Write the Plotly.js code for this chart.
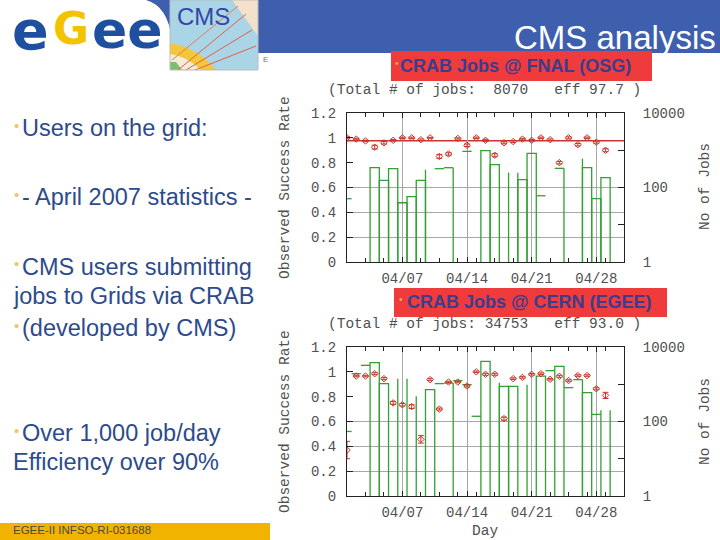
<!DOCTYPE html>
<html><head><meta charset="utf-8">
<script src="https://cdn.plot.ly/plotly-3.0.1.min.js"></script>
<style>html,body{margin:0;padding:0;background:#fff;}#chart{width:720px;height:540px;}</style>
</head><body><div id="chart"></div>
<script>
// ---------------- data ----------------
const days = ['2007-04-01','2007-04-02','2007-04-03','2007-04-04','2007-04-05','2007-04-06','2007-04-07','2007-04-08','2007-04-09','2007-04-10',
  '2007-04-11','2007-04-12','2007-04-13','2007-04-14','2007-04-15','2007-04-16','2007-04-17','2007-04-18','2007-04-19','2007-04-20',
  '2007-04-21','2007-04-22','2007-04-23','2007-04-24','2007-04-25','2007-04-26','2007-04-27','2007-04-28','2007-04-29'];

// FNAL (OSG) success rate per day
const fnalRate = [1.0,0.99,0.975,0.925,0.96,0.98,1.0,1.0,0.985,1.0,
  0.85,0.87,0.995,0.94,1.0,0.98,0.86,0.96,0.97,0.99,
  0.98,1.0,0.985,0.80,1.0,0.945,1.0,0.965,0.90];
const fnalErr = [0.008,0.006,0.006,0.015,0.01,0.006,0.005,0.006,0.006,0.004,
  0.015,0.01,0.005,0.01,0.006,0.008,0.012,0.008,0.008,0.006,
  0.006,0.006,0.006,0.01,0.008,0.01,0.006,0.008,0.012];
const fnalEff = 0.977;
// FNAL number of jobs (histogram pieces)
const fnalBarDays = ['2007-04-04','2007-04-05','2007-04-06','2007-04-07','2007-04-08','2007-04-09','2007-04-16','2007-04-17','2007-04-20','2007-04-21','2007-04-27','2007-04-28','2007-04-29'];
const fnalBarJobs = [340,155,320,39,57,155,975,410,162,826,340,50,184];
const fnalTopDays = ['2007-04-01','2007-04-11','2007-04-12','2007-04-14','2007-04-22','2007-04-24'];
const fnalTopJobs = [50,320,340,935,60,327];
const fnalStemEdges = ['2007-04-09 12:00','2007-04-12 12:00','2007-04-18 12:00','2007-04-19 12:00','2007-04-24 12:00','2007-04-26 12:00'];
const fnalStemJobs = [300,340,250,250,327,595];

// CERN (EGEE) success rate per day
const cernRate = [0.37,0.966,0.966,0.985,0.945,0.75,0.735,0.72,0.456,0.937,
  0.70,0.918,0.918,0.886,1.0,0.98,0.98,0.623,0.945,0.955,
  0.98,0.985,0.94,0.964,0.93,0.97,0.97,0.864,0.81];
const cernErr = [0.07,0.006,0.006,0.008,0.008,0.012,0.01,0.015,0.03,0.008,
  0.008,0.006,0.006,0.008,0.006,0.008,0.008,0.012,0.006,0.006,
  0.006,0.006,0.006,0.008,0.006,0.006,0.006,0.008,0.025];
const cernBarDays = ['2007-04-04','2007-04-05','2007-04-10','2007-04-16','2007-04-18','2007-04-19','2007-04-22','2007-04-24','2007-04-27'];
const cernBarJobs = [3800,1040,716,4120,880,880,1660,3020,595];
const cernTopDays = ['2007-04-01','2007-04-02','2007-04-03','2007-04-11','2007-04-12','2007-04-13','2007-04-14','2007-04-15','2007-04-23','2007-04-25','2007-04-26','2007-04-28'];
const cernTopJobs = [54,1920,3220,1040,1080,1250,975,138,2320,810,1330,155];
const cernStemEdges = ['2007-04-06 12:00','2007-04-07 12:00','2007-04-08 12:00','2007-04-12 12:00','2007-04-17 12:00','2007-04-20 12:00','2007-04-26 12:00','2007-04-28 12:00','2007-04-29 12:00'];
const cernStemJobs = [1410,1410,474,1080,1100,975,1330,200,200];

// axis ticks / labels
const weekTicks = ['2007-04-07','2007-04-14','2007-04-21','2007-04-28'];
const weekLabels = ['04/07','04/14','04/21','04/28'];
const rateTicks = [0,0.2,0.4,0.6,0.8,1.0,1.2];
const rateLabels = ['0','0.2','0.4','0.6','0.8','1','1.2'];
const gridRate = [0.2,0.4,0.6];
const jobTicks = [1,10,100,1000,10000];
const jobLabels = ['1','','100','','10000'];

const fnalTitle = '(Total # of jobs:\u00a0\u00a08070\u00a0\u00a0\u00a0eff 97.7 )';
const cernTitle = '(Total # of jobs: 34753\u00a0\u00a0\u00a0eff 93.0 )';

// ---------------- helpers ----------------
const W = 720, H = 540;
const X = px => px / W, Y = py => 1 - py / H;
const DAY = 86400000, HALF = DAY / 2;
const ms = s => Date.parse(s.length > 10 ? s.replace(' ', 'T') + ':00Z' : s + 'T00:00:00Z');
function P(str){ // pixel path -> paper path
  const t = str.trim().split(/\s+/); let out = [], k = 0;
  for (const tok of t){
    if (/^[A-Za-z]$/.test(tok)){ out.push(tok); k = 0; }
    else { const v = parseFloat(tok); out.push((k % 2 === 0 ? X(v) : Y(v)).toFixed(5)); k++; }
  }
  return out.join(' ');
}
const GREEN = '#32a032', RED = '#c8352b', GRID = '#a8a8a8', AXC = '#222', TXT = '#505050';
const MONO = 'Liberation Mono, DejaVu Sans Mono, monospace';
const SANS = 'Liberation Sans, Arial, sans-serif';
const BLUE = '#3d5fae', TEXTBLUE = '#2d4b8c';

function histTraces(xa, ya, barDays, barJobs, topDays, topJobs, stemEdges, stemJobs){
  const tx = [], ty = [];
  topDays.forEach((d, i) => { const t = ms(d); tx.push(t - HALF, t + HALF, null); ty.push(topJobs[i], topJobs[i], null); });
  const sx = [], sy = [];
  stemEdges.forEach((e, i) => { const t = ms(e); sx.push(t, t, null); sy.push(1, stemJobs[i], null); });
  return [
    {type:'bar', x:barDays, y:barJobs, width:DAY, xaxis:xa, yaxis:ya,
     marker:{color:'rgba(0,0,0,0)', line:{color:GREEN, width:1.3}}, hoverinfo:'skip'},
    {type:'scatter', mode:'lines', x:tx, y:ty, xaxis:xa, yaxis:ya, line:{color:GREEN, width:1.3}, hoverinfo:'skip'},
    {type:'scatter', mode:'lines', x:sx, y:sy, xaxis:xa, yaxis:ya, line:{color:GREEN, width:1.3}, hoverinfo:'skip'}
  ];
}
function rateTrace(xa, ya, rate, err){
  return {type:'scatter', mode:'markers', x:days, y:rate, xaxis:xa, yaxis:ya,
    marker:{symbol:'diamond-open', size:5, color:RED, line:{width:1, color:RED}},
    error_y:{type:'data', array:err, visible:true, color:RED, thickness:1, width:3}, hoverinfo:'skip'};
}

const data = [
  ...histTraces('x','y', fnalBarDays, fnalBarJobs, fnalTopDays, fnalTopJobs, fnalStemEdges, fnalStemJobs),
  rateTrace('x','y2', fnalRate, fnalErr),
  {type:'scatter', x:[], y:[], xaxis:'x', yaxis:'y3', hoverinfo:'skip'},
  ...histTraces('x2','y4', cernBarDays, cernBarJobs, cernTopDays, cernTopJobs, cernStemEdges, cernStemJobs),
  rateTrace('x2','y5', cernRate, cernErr),
  {type:'scatter', x:[], y:[], xaxis:'x2', yaxis:'y6', hoverinfo:'skip'}
];

const tickfont = {family:MONO, size:14, color:TXT};
function xAxis(anchor){
  return {domain:[X(347), X(624)], anchor, type:'date', range:['2007-04-01','2007-05-01'],
    tickmode:'array', tickvals:weekTicks, ticktext:weekLabels, showgrid:true, gridcolor:GRID, gridwidth:1,
    ticks:'inside', ticklen:5, tickcolor:AXC, showline:true, linecolor:AXC, linewidth:1, mirror:'ticks',
    zeroline:false, tickfont, ticklabelstandoff:3,
    minor:{tick0:'2007-04-01', dtick:2*DAY, ticks:'inside', ticklen:4, tickcolor:AXC, showgrid:false}};
}
function logAxis(anchor, top, bottom){
  return {domain:[Y(bottom), Y(top)], anchor, type:'log', side:'right', range:[0,4],
    tickmode:'array', tickvals:jobTicks, ticktext:jobLabels, ticks:'inside', ticklen:6, tickcolor:AXC,
    showline:true, linecolor:AXC, linewidth:1, showgrid:false, zeroline:false, tickfont, ticklabelstandoff:15};
}
function rateAxis(over, anchor){
  return {overlaying:over, anchor, side:'left', range:[0,1.2], tickmode:'array', tickvals:rateTicks, ticktext:rateLabels,
    ticks:'inside', ticklen:6, tickcolor:AXC, showline:true, linecolor:AXC, linewidth:1, showgrid:false, zeroline:false,
    tickfont, ticklabelstandoff:7};
}
function gridAxis(over, anchor){
  return {overlaying:over, anchor, range:[0,1.2], tickmode:'array', tickvals:gridRate, showticklabels:false, ticks:'',
    showgrid:true, gridcolor:GRID, gridwidth:1, showline:false, zeroline:false};
}

function ann(text, px, py, o = {}){
  return Object.assign({xref:'paper', yref:'paper', x:X(px), y:Y(py), text, showarrow:false,
    xanchor:'left', yanchor:'middle', font:{family:SANS, size:23.5, color:TEXTBLUE}}, o);
}
const bullet = (px, py, size, color) => ann('•', px, py, {xanchor:'center', font:{family:SANS, size, color}});
const chartFont = {family:MONO, size:14.5, color:TXT};
const logoFont = (c, s) => ({family:'DejaVu Sans, Liberation Sans, sans-serif', size:s, color:c, weight:'bold'});
const LOGOBLUE = '#1f4f9f', LOGOYEL = '#f4c300';

const annotations = [
  // egee logo & header
  ann('e', 30, 30, {xanchor:'center', font:logoFont(LOGOBLUE, 54)}),
  ann('G', 71, 29, {xanchor:'center', font:logoFont(LOGOYEL, 44)}),
  ann('ee', 127, 30, {xanchor:'center', font:logoFont(LOGOBLUE, 52)}),
  ann('CMS', 175, 17, {font:{family:'Liberation Sans Narrow, Liberation Sans, sans-serif', size:24, color:'#3547a6'}}),
  ann('E', 261, 59, {font:{family:SANS, size:8, color:'#777'}}),
  ann('CMS analysis', 718, 37, {xanchor:'right', font:{family:SANS, size:33, color:'#ffffff'}}),
  bullet(397, 63, 10, '#f5b04a'),
  ann('CRAB Jobs @ FNAL (OSG)', 398, 66, {font:{family:SANS, size:18, color:'#3b3d8e', weight:'bold'}}),
  bullet(401, 299, 10, '#f5b04a'),
  ann('CRAB Jobs @ CERN (EGEE)', 405, 302, {font:{family:SANS, size:18, color:'#3b3d8e', weight:'bold'}}),
  // left bullets
  bullet(16, 125, 15, '#f2c46d'),
  ann('Users on the grid:', 20, 128),
  bullet(16, 194, 15, '#f2c46d'),
  ann('- April 2007 statistics -', 20, 197),
  bullet(16, 263, 15, '#f2c46d'),
  ann('CMS users submitting', 20, 267),
  ann('jobs to Grids via CRAB', 11, 296),
  bullet(16, 325, 15, '#f2c46d'),
  ann('(developed by CMS)', 20, 328),
  bullet(16, 430, 15, '#f2c46d'),
  ann('Over 1,000 job/day', 20, 433),
  ann('Efficiency over 90%', 11, 462),
  ann('EGEE-II INFSO-RI-031688', 11, 530, {font:{family:SANS, size:11.5, color:'#4a4a4a'}}),
  // chart texts
  ann(fnalTitle, 484, 90, {xanchor:'center', font:chartFont}),
  ann(cernTitle, 484, 324, {xanchor:'center', font:chartFont}),
  ann('Observed Success Rate', 285, 188, {xanchor:'center', textangle:-90, font:chartFont}),
  ann('Observed Success Rate', 285, 422, {xanchor:'center', textangle:-90, font:chartFont}),
  ann('No of Jobs', 705, 187, {xanchor:'center', textangle:-90, font:chartFont}),
  ann('No of Jobs', 705, 422, {xanchor:'center', textangle:-90, font:chartFont}),
  ann('Day', 485, 531, {xanchor:'center', font:chartFont})
];

const paperShape = (o) => Object.assign({xref:'paper', yref:'paper', layer:'below', line:{width:0}}, o);
const rectPx = (x0, y0, x1, y1, fill, line) => paperShape({type:'rect', x0:X(x0), x1:X(x1), y0:Y(y1), y1:Y(y0), fillcolor:fill, line:line || {width:0}});
const pathPx = (p, fill, line) => paperShape({type:'path', path:P(p), fillcolor:fill, line:line || {width:0}});

const shapes = [
  // header band
  pathPx('M 146 0 Q 168 6 172 40 L 172 53 L 720 53 L 720 0 Z', BLUE),
  // CMS picture
  rectPx(170, 0, 258, 70, '#f4e1cc'),
  pathPx('M 170 0 L 232 0 L 258 36 L 258 70 L 170 70 Z', '#a9d5e6'),
  pathPx('M 170 43 Q 198 48 216 70 L 201 70 Q 186 56 170 54 Z', '#f4c63a'),
  pathPx('M 170 54 Q 186 56 201 70 L 170 70 Z', '#f5ecd8'),
  pathPx('M 170 62 L 176 62 L 182 70 L 170 70 Z', '#7fbf6a'),
  pathPx('M 178 70 L 246 14', null, {color:'#e0604a', width:1}),
  pathPx('M 186 70 L 252 30', null, {color:'#e0604a', width:1}),
  pathPx('M 195 70 L 256 46', null, {color:'#e0604a', width:1}),
  pathPx('M 172 60 L 238 6', null, {color:'#e57a5a', width:1}),
  rectPx(170, 0, 258, 70, 'rgba(0,0,0,0)', {color:'#bbbbbb', width:1}),
  // red title boxes
  rectPx(391, 51, 652, 81, '#ef3b3b'),
  rectPx(394, 288, 667, 317, '#ef3b3b'),
  // footer
  rectPx(0, 523, 270, 540, '#f2b300'),
  // overall efficiency line (FNAL)
  {type:'line', xref:'x domain', x0:0, x1:1, yref:'y2', y0:fnalEff, y1:fnalEff, line:{color:'#cc3333', width:1.5}, layer:'below'}
];

const layout = {
  width:W, height:H, margin:{l:0, r:0, t:0, b:0}, paper_bgcolor:'#ffffff', plot_bgcolor:'rgba(0,0,0,0)',
  showlegend:false, font:{family:MONO, size:14, color:TXT}, bargap:0,
  xaxis: xAxis('y'),
  yaxis: logAxis('x', 113, 262),
  yaxis2: rateAxis('y', 'x'),
  yaxis3: gridAxis('y', 'x'),
  xaxis2: xAxis('y4'),
  yaxis4: logAxis('x2', 347, 496),
  yaxis5: rateAxis('y4', 'x2'),
  yaxis6: gridAxis('y4', 'x2'),
  shapes, annotations
};

Plotly.newPlot('chart', data, layout, {staticPlot:true, displayModeBar:false});
</script></body></html>
